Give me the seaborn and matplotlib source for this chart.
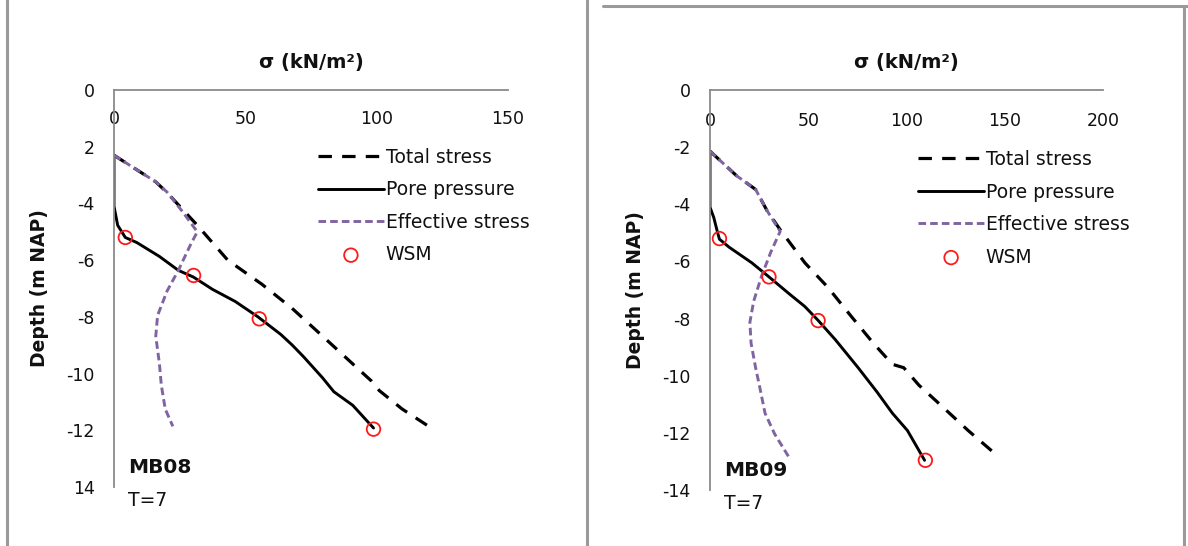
import matplotlib
matplotlib.use("Agg")
import matplotlib.pyplot as plt
import seaborn as sns
import pandas as pd
from matplotlib.lines import Line2D

# ---------------- data ----------------
# MB08
mb08_total_sigma = [0, 15.9, 20, 31.7, 43.3, 56.3, 67.8, 79.4, 90.9, 98.1, 101, 109.7, 119.8]
mb08_total_depth = [-2.3, -3.24, -3.6, -4.77, -6.0, -6.85, -7.7, -8.68, -9.66, -10.27, -10.6, -11.25, -11.86]
mb08_pore_sigma = [0, 0, 1.4, 4.3, 8.7, 17.3, 24.5, 30.3, 37.5, 46.2, 54.8, 63.5, 67.8, 72.2, 79.4, 83.7, 90.9, 98.8]
mb08_pore_depth = [-2.3, -4.1, -4.77, -5.2, -5.38, -5.87, -6.36, -6.6, -7.03, -7.46, -8.0, -8.62, -8.99, -9.41, -10.15, -10.64, -11.12, -11.92]
mb08_eff_sigma = [0, 15.9, 20.2, 26, 31.7, 28.9, 24.5, 20.2, 16.6, 15.9, 17.3, 18, 19.5, 22.4]
mb08_eff_depth = [-2.3, -3.24, -3.6, -4.28, -5.0, -5.5, -6.36, -7.09, -7.95, -8.68, -9.66, -10.4, -11.25, -11.86]
mb08_wsm_sigma = [4.3, 30.3, 55.3, 98.8]
mb08_wsm_depth = [-5.2, -6.54, -8.07, -11.96]

# MB09
mb09_total_sigma = [0, 13.5, 23.2, 29, 35.7, 48.3, 59.9, 71.5, 83.1, 92.8, 98.6, 106.3, 117.9, 131.4, 145.9]
mb09_total_depth = [-2.14, -3.0, -3.48, -4.22, -4.89, -6.05, -6.9, -7.89, -8.86, -9.6, -9.72, -10.33, -11.06, -11.92, -12.78]
mb09_pore_sigma = [0, 0, 1.9, 3.9, 4.8, 9.7, 21.3, 30, 40.6, 48.3, 55.1, 63.8, 75.4, 85, 92.8, 100.5, 109.2]
mb09_pore_depth = [-2.14, -4.1, -4.46, -5.0, -5.22, -5.5, -6.05, -6.54, -7.15, -7.58, -8.07, -8.74, -9.72, -10.57, -11.31, -11.92, -12.96]
mb09_eff_sigma = [0, 13.5, 23.2, 29, 35.7, 30.9, 26.1, 22.2, 20.3, 20.9, 23.2, 25.1, 28, 32.9, 40.6]
mb09_eff_depth = [-2.14, -3.0, -3.48, -4.22, -4.95, -5.68, -6.54, -7.4, -8.13, -8.86, -9.72, -10.33, -11.31, -12.04, -12.9]
mb09_wsm_sigma = [4.8, 30, 55, 109.6]
mb09_wsm_depth = [-5.2, -6.54, -8.07, -12.96]

series_names = ["Total stress", "Pore pressure", "Effective stress", "WSM"]
panel_names = ["MB08", "MB09"]
panel_time = "T=7"
x_ticks_mb08 = [0, 50, 100, 150]
x_ticks_mb09 = [0, 50, 100, 150, 200]
y_ticks = [0, -2, -4, -6, -8, -10, -12, -14]
y_ticklabels_mb08 = ["0", "2", "-4", "-6", "-8", "-10", "-12", "14"]
y_ticklabels_mb09 = ["0", "-2", "-4", "-6", "-8", "-10", "-12", "-14"]
x_title = "σ (kN/m²)"
y_title = "Depth (m NAP)"

# ---------------- style ----------------
sns.set_theme(style="white")
plt.rcParams["font.family"] = ["DejaVu Sans"]

FONT_COLOR = "#111111"
AXIS_COLOR = "#8a8a8a"
PURPLE = "#8064A2"

fig = plt.figure(figsize=(11.88, 5.46), dpi=100)

axes_pos = [
    [114 / 1188, 1 - 487 / 546, 394 / 1188, 397 / 546],
    [710 / 1188, 1 - 490 / 546, 393 / 1188, 400 / 546],
]

panels = [
    dict(total=(mb08_total_sigma, mb08_total_depth), pore=(mb08_pore_sigma, mb08_pore_depth),
         eff=(mb08_eff_sigma, mb08_eff_depth), wsm=(mb08_wsm_sigma, mb08_wsm_depth),
         xlim=(0, 150), xticks=x_ticks_mb08, yticklabels=y_ticklabels_mb08,
         name=panel_names[0], leg_x=0.518, leg_y=0.855, xpad=-27),
    dict(total=(mb09_total_sigma, mb09_total_depth), pore=(mb09_pore_sigma, mb09_pore_depth),
         eff=(mb09_eff_sigma, mb09_eff_depth), wsm=(mb09_wsm_sigma, mb09_wsm_depth),
         xlim=(0, 200), xticks=x_ticks_mb09, yticklabels=y_ticklabels_mb09,
         name=panel_names[1], leg_x=0.53, leg_y=0.85, xpad=-29),
]

for pos, p in zip(axes_pos, panels):
    ax = fig.add_axes(pos)
    ax.set_facecolor("none")

    df_t = pd.DataFrame({"sigma": p["total"][0], "depth": p["total"][1]})
    df_p = pd.DataFrame({"sigma": p["pore"][0], "depth": p["pore"][1]})
    df_e = pd.DataFrame({"sigma": p["eff"][0], "depth": p["eff"][1]})
    df_w = pd.DataFrame({"sigma": p["wsm"][0], "depth": p["wsm"][1]})

    sns.lineplot(data=df_t, x="sigma", y="depth", sort=False, estimator=None,
                 color="black", linewidth=2.3, label=series_names[0], ax=ax)
    ax.lines[-1].set_linestyle((0, (4.2, 3.2)))
    sns.lineplot(data=df_p, x="sigma", y="depth", sort=False, estimator=None,
                 color="black", linewidth=2.1, label=series_names[1], ax=ax)
    sns.lineplot(data=df_e, x="sigma", y="depth", sort=False, estimator=None,
                 color=PURPLE, linewidth=2.1, label=series_names[2], ax=ax)
    ax.lines[-1].set_linestyle((0, (2.6, 1.4)))
    sns.scatterplot(data=df_w, x="sigma", y="depth", marker="o", s=95,
                    facecolors="none", edgecolors="#ff1a1a", linewidths=1.3,
                    label=series_names[3], ax=ax, zorder=5, clip_on=False)

    ax.set_xlim(*p["xlim"])
    ax.set_ylim(-14, 0)
    ax.set_xticks(p["xticks"])
    ax.set_xticklabels([str(t) for t in p["xticks"]])
    ax.set_yticks(y_ticks)
    ax.set_yticklabels(p["yticklabels"])

    for side in ["right", "bottom"]:
        ax.spines[side].set_visible(False)
    for side in ["top", "left"]:
        ax.spines[side].set_visible(True)
        ax.spines[side].set_color(AXIS_COLOR)
        ax.spines[side].set_linewidth(1.3)

    ax.tick_params(axis="x", top=True, labeltop=True, bottom=False, labelbottom=False,
                   length=0, pad=p["xpad"], labelsize=12.5, labelcolor=FONT_COLOR)
    ax.tick_params(axis="y", left=True, length=0, pad=14, labelsize=12.5, labelcolor=FONT_COLOR)

    ax.xaxis.set_label_position("top")
    ax.set_xlabel(x_title, fontsize=14, fontweight="bold", color=FONT_COLOR)
    ax.xaxis.set_label_coords(0.5, 1.055)
    ax.set_ylabel(y_title, fontsize=13.5, fontweight="bold", color=FONT_COLOR)
    ax.yaxis.set_label_coords(-0.165, 0.5)

    ax.text(0.035, 0.048, p["name"], transform=ax.transAxes, fontsize=14.5,
            fontweight="bold", color=FONT_COLOR, va="center", ha="left")
    ax.text(0.035, -0.033, panel_time, transform=ax.transAxes, fontsize=13.5,
            color=FONT_COLOR, va="center", ha="left", clip_on=False)

    leg = ax.legend(loc="upper left", bbox_to_anchor=(p["leg_x"], p["leg_y"]), frameon=False,
                    fontsize=13.5, handlelength=3.5, handletextpad=0.1,
                    labelspacing=0.72, borderpad=0, borderaxespad=0, scatterpoints=1)
    for t in leg.get_texts():
        t.set_color(FONT_COLOR)

# panel borders
border_kw = dict(color="#9a9a9a", linewidth=2.2, transform=fig.transFigure)
fig.add_artist(Line2D([7 / 1188, 7 / 1188], [0, 1], **border_kw))
fig.add_artist(Line2D([587 / 1188, 587 / 1188], [0, 1], **border_kw))
fig.add_artist(Line2D([603 / 1188, 1], [1 - 6 / 546, 1 - 6 / 546], **border_kw))
fig.add_artist(Line2D([1184 / 1188, 1184 / 1188], [0, 1 - 6 / 546], **border_kw))

fig.savefig("out.png", dpi=100, facecolor="white")
